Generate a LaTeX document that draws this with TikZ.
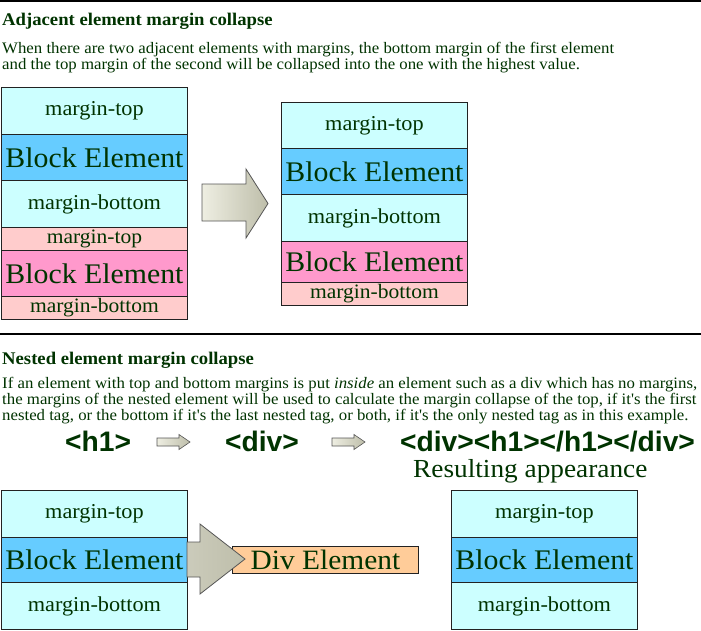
\documentclass[tikz,border=0pt]{standalone}
\usepackage{fontspec}
\setmainfont{Liberation Serif}[Ligatures=TeXOff]
\newfontfamily\tagfamily{Liberation Sans}
\usepackage{graphicx}
\definecolor{tgreen}{HTML}{003300}
\definecolor{cyanl}{HTML}{CCFFFF}
\definecolor{blueb}{HTML}{66CCFF}
\definecolor{pinkl}{HTML}{FFCCCC}
\definecolor{pinkb}{HTML}{FF99CC}
\definecolor{divfill}{HTML}{FFCC99}
\definecolor{boxline}{HTML}{222222}
\definecolor{arrline}{HTML}{555555}
\definecolor{arrl}{HTML}{EEEEE2}
\definecolor{arrr}{HTML}{BEBEAA}
\newcommand\wide[1]{\scalebox{1.05}[1]{#1}}
\begin{document}
\begin{tikzpicture}[x=1pt,y=-1pt]
\tikzset{
 lay/.style={draw=boxline, line width=0.9pt, anchor=north west, minimum width=186pt, inner sep=0pt, text=tgreen},
 cy/.style={lay, fill=cyanl, font=\fontsize{21.2}{22}\selectfont},
 bl/.style={lay, fill=blueb, font=\fontsize{28.4}{29}\selectfont},
 pl/.style={lay, fill=pinkl, font=\fontsize{20.5}{21}\selectfont},
 pk/.style={lay, fill=pinkb, font=\fontsize{28.4}{29}\selectfont},
 txt/.style={anchor=base west, inner sep=0pt, text=tgreen},
 ttl/.style={txt, font=\fontsize{17.8}{18}\selectfont\bfseries},
 bod/.style={txt, font=\fontsize{16}{16}\selectfont},
 tagtxt/.style={txt, font=\tagfamily\bfseries\fontsize{28.2}{29}\selectfont},
 blockarrow/.style={draw=arrline, line width=0.8pt, left color=arrl, right color=arrr},
}
\useasboundingbox (0,0) rectangle (701,630);
\fill[white] (0,0) rectangle (701,630);
% rules
\draw[line width=1.5pt] (0,0.75) -- (701,0.75);
\draw[line width=1.2pt] (0,334) -- (701,334);

% section 1 texts
\node[ttl] (t1) at (2,25) {\wide{Adjacent element margin collapse}};
\node[bod] (p1a) at (2,53) {\wide{When there are two adjacent elements with margins, the bottom margin of the first element}};
\node[bod] (p1b) at (2,69) {\wide{and the top margin of the second will be collapsed into the one with the highest value.}};

% left stack
\node[cy, minimum height=47pt] (a1) at (1,87) {\wide{margin-top}};
\node[bl, minimum height=46pt] (a2) at (1,134) {\wide{Block Element}};
\node[cy, minimum height=47pt] (a3) at (1,180) {\wide{margin-bottom}};
\node[pl, minimum height=23pt] (a4) at (1,227) {\wide{margin-top}};
\node[pk, minimum height=46pt] (a5) at (1,250) {\wide{Block Element}};
\node[pl, minimum height=23pt] (a6) at (1,296) {\wide{margin-bottom}};

% big arrow
\path[blockarrow] (202,184) -- (246,184) -- (246,169) -- (268,203.5) -- (246,238) -- (246,221) -- (202,221) -- cycle;

% right stack
\node[cy, minimum height=46pt] (b1) at (281,102) {\wide{margin-top}};
\node[bl, minimum height=46pt] (b2) at (281,148) {\wide{Block Element}};
\node[cy, minimum height=47pt] (b3) at (281,194) {\wide{margin-bottom}};
\node[pk, minimum height=41pt] (b4) at (281,241) {\wide{Block Element}};
\node[pl, minimum height=23pt] (b5) at (281,282) {\wide{margin-bottom}};

% section 2 texts
\node[ttl] (t2) at (2,364) {\wide{Nested element margin collapse}};
\node[bod] (p2a) at (2,388) {\wide{If an element with top and bottom margins is put \textit{inside} an element such as a div which has no margins,}};
\node[bod] (p2b) at (2,404) {\wide{the margins of the nested element will be used to calculate the margin collapse of the top, if it's the first}};
\node[bod] (p2c) at (2,420) {\wide{nested tag, or the bottom if it's the last nested tag, or both, if it's the only nested tag as in this example.}};

% tags row
\node[tagtxt] (g1) at (65,451) {<h1>};
\path[blockarrow, line width=0.6pt] (157,438) -- (179,438) -- (179,434.5) -- (190,442) -- (179,449.5) -- (179,446) -- (157,446) -- cycle;
\node[tagtxt] (g2) at (225,451) {<div>};
\path[blockarrow, line width=0.6pt] (332,438) -- (354,438) -- (354,434.5) -- (365,442) -- (354,449.5) -- (354,446) -- (332,446) -- cycle;
\node[tagtxt] (g3) at (400,451) {<div><h1></h1></div>};
\node[txt, font=\fontsize{26}{26}\selectfont] (res) at (413,477) {\wide{Resulting appearance}};

% bottom left stack
\node[cy, minimum height=47pt] (c1) at (1,490) {\wide{margin-top}};
\node[bl, minimum height=45pt] (c2) at (1,537) {\wide{Block Element}};
\node[cy, minimum height=47pt] (c3) at (1,582) {\wide{margin-bottom}};

% div element and arrow
\node[lay, fill=divfill, minimum height=27pt, font=\fontsize{28}{28}\selectfont] (dv) at (232,546) {\wide{Div Element}};
\path[blockarrow, left color=arrr!80!white, right color=arrr] (187,542) -- (200,542) -- (200,524) -- (245,559) -- (200,594) -- (200,577) -- (187,577) -- cycle;

% bottom right stack
\node[cy, minimum height=47pt] (d1) at (451,490) {\wide{margin-top}};
\node[bl, minimum height=45pt] (d2) at (451,537) {\wide{Block Element}};
\node[cy, minimum height=47pt] (d3) at (451,582) {\wide{margin-bottom}};
\end{tikzpicture}
\end{document}
